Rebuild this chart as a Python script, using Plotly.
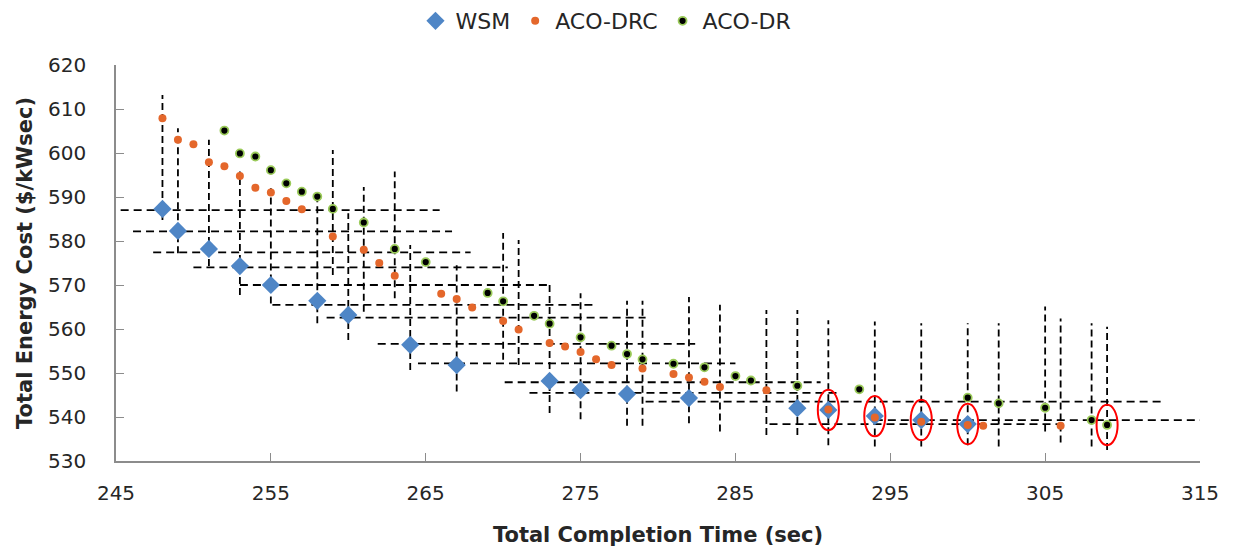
import plotly.graph_objects as go

# ---------------- data ----------------
wsm_x = [248, 249, 251, 253, 255, 258, 260, 264, 267, 273, 275, 278, 282, 289, 291, 294, 297, 300]
wsm_y = [587.3, 582.3, 578.2, 574.3, 570.0, 566.4, 563.2, 556.4, 551.8, 548.2, 546.1, 545.2, 544.3,
         542.0, 541.6, 540.2, 539.3, 538.4]

drc_x = [248, 249, 250, 251, 252, 253, 254, 255, 256, 257, 259, 261, 262, 263, 266, 267, 268, 270,
         271, 273, 274, 275, 276, 277, 279, 281, 282, 283, 284, 287, 291, 294, 297, 300, 301, 306]
drc_y = [607.9, 603.0, 602.0, 597.9, 597.0, 594.8, 592.1, 591.0, 589.1, 587.2, 581.0, 578.0, 575.0,
         572.1, 568.0, 566.8, 564.9, 561.8, 559.9, 556.8, 556.0, 554.8, 553.1, 551.8, 551.0, 549.8,
         549.0, 548.0, 546.8, 546.1, 541.7, 539.9, 538.9, 538.2, 538.0, 538.0]

dr_x = [252, 253, 254, 255, 256, 257, 258, 259, 261, 263, 265, 269, 270, 272, 273, 275, 277, 278,
        279, 281, 283, 285, 286, 289, 293, 300, 302, 305, 308, 309]
dr_y = [605.1, 599.9, 599.2, 596.1, 593.1, 591.2, 590.1, 587.3, 584.2, 578.2, 575.2, 568.2, 566.3,
        563.0, 561.2, 558.1, 556.2, 554.3, 553.1, 552.1, 551.3, 549.3, 548.3, 547.1, 546.3, 544.4,
        543.1, 542.1, 539.3, 538.2]

# dashed vertical range bars: x, low, high
vbar_x = [248, 249, 251, 253, 255, 258, 259, 260, 261, 263, 264, 267, 270, 271, 273, 275, 278, 279,
          282, 284, 287, 289, 291, 294, 297, 300, 302, 305, 306, 308, 309]
vbar_lo = [584.8, 577.2, 574.3, 567.7, 565.8, 561.3, 572.3, 557.5, 563.9, 567.0, 550.7, 545.8, 553.0,
           551.8, 540.9, 539.5, 538.0, 538.0, 538.6, 536.7, 535.9, 535.9, 533.6, 533.3, 533.3, 533.6,
           533.3, 536.7, 534.2, 533.3, 532.5]
vbar_hi = [613.2, 605.6, 603.0, 595.8, 592.0, 590.1, 600.7, 586.3, 592.3, 595.8, 579.1, 574.5, 581.8,
           580.2, 570.0, 568.1, 566.4, 566.4, 567.3, 565.5, 564.3, 564.3, 562.0, 561.7, 561.3, 561.3,
           561.3, 565.1, 562.4, 561.3, 560.5]

# dashed horizontal range bars: y, left, right
hbar_y = [587.0, 582.2, 577.4, 574.0, 570.0, 565.5, 562.6, 556.6, 552.2, 547.9, 545.5, 543.5, 539.3, 538.4]
hbar_lo = [245.3, 246.1, 247.4, 250.0, 253.0, 255.1, 258.6, 261.9, 264.5, 270.1, 271.7, 279.2, 294.0, 287.2]
hbar_hi = [265.9, 266.7, 267.9, 270.3, 273.0, 276.0, 279.2, 282.4, 285.0, 290.5, 291.8, 312.7, 315.2, 306.0]

# highlighted (circled) points
hl_x = [291, 294, 297, 300, 309]
hl_y = [541.6, 540.2, 539.3, 538.4, 538.2]

x_ticks = [245, 255, 265, 275, 285, 295, 305, 315]
y_ticks = [530, 540, 550, 560, 570, 580, 590, 600, 610, 620]

# ---------------- figure ----------------
fig = go.Figure()

vx, vy = [], []
for x, lo, hi in zip(vbar_x, vbar_lo, vbar_hi):
    vx += [x, x, None]
    vy += [lo, hi, None]
hx, hy = [], []
for y, lo, hi in zip(hbar_y, hbar_lo, hbar_hi):
    hx += [lo, hi, None]
    hy += [y, y, None]

fig.add_trace(go.Scatter(x=hx, y=hy, mode="lines", showlegend=False, hoverinfo="skip",
                         line=dict(color="black", width=1.8, dash="8px,5px")))
fig.add_trace(go.Scatter(x=vx, y=vy, mode="lines", showlegend=False, hoverinfo="skip",
                         line=dict(color="black", width=1.8, dash="7px,4px")))

fig.add_trace(go.Scatter(x=wsm_x, y=wsm_y, mode="markers", name="WSM",
                         marker=dict(symbol="diamond", size=14, color="#4F86C6",
                                     line=dict(width=0))))
fig.add_trace(go.Scatter(x=drc_x, y=drc_y, mode="markers", name="ACO-DRC",
                         marker=dict(symbol="circle", size=8, color="#E4672B",
                                     line=dict(width=0))))
fig.add_trace(go.Scatter(x=dr_x, y=dr_y, mode="markers", name="ACO-DR",
                         marker=dict(symbol="circle", size=8, color="black",
                                     line=dict(width=1.8, color="#9BCB5A"))))

ell_rx, ell_ry = 0.68, 4.6
for x, y in zip(hl_x, hl_y):
    fig.add_shape(type="circle", xref="x", yref="y",
                  x0=x - ell_rx, x1=x + ell_rx, y0=y - ell_ry, y1=y + ell_ry,
                  line=dict(color="#FF0000", width=2))

axis_common = dict(showline=True, linecolor="#8C8C8C", linewidth=1.6, showgrid=False,
                   zeroline=False, ticks="inside", ticklen=8, tickcolor="#8C8C8C", tickwidth=1.3,
                   automargin=False,
                   tickfont=dict(family="DejaVu Sans", size=20, color="#262626"))

fig.update_xaxes(range=[245, 315], tickvals=x_ticks, ticklabelstandoff=13,
                 title=dict(text="<b>Total Completion Time (sec)</b>", standoff=24,
                            font=dict(family="DejaVu Sans", size=21, color="#262626")),
                 **axis_common)
fig.update_yaxes(range=[530, 620], tickvals=y_ticks, ticklabelstandoff=24,
                 title=dict(text="<b>Total Energy Cost ($/kWsec)</b>", standoff=10,
                            font=dict(family="DejaVu Sans", size=21, color="#262626")),
                 **axis_common)

fig.update_layout(
    width=1234, height=552,
    margin=dict(l=116, r=34, t=65, b=91),
    paper_bgcolor="white", plot_bgcolor="white",
    legend=dict(orientation="h", x=0.452, xanchor="center", y=1.0, yanchor="top",
                yref="container", font=dict(family="DejaVu Sans", size=22, color="#262626"),
                itemwidth=30, bgcolor="rgba(0,0,0,0)"),
)

fig.write_html("out.html")
